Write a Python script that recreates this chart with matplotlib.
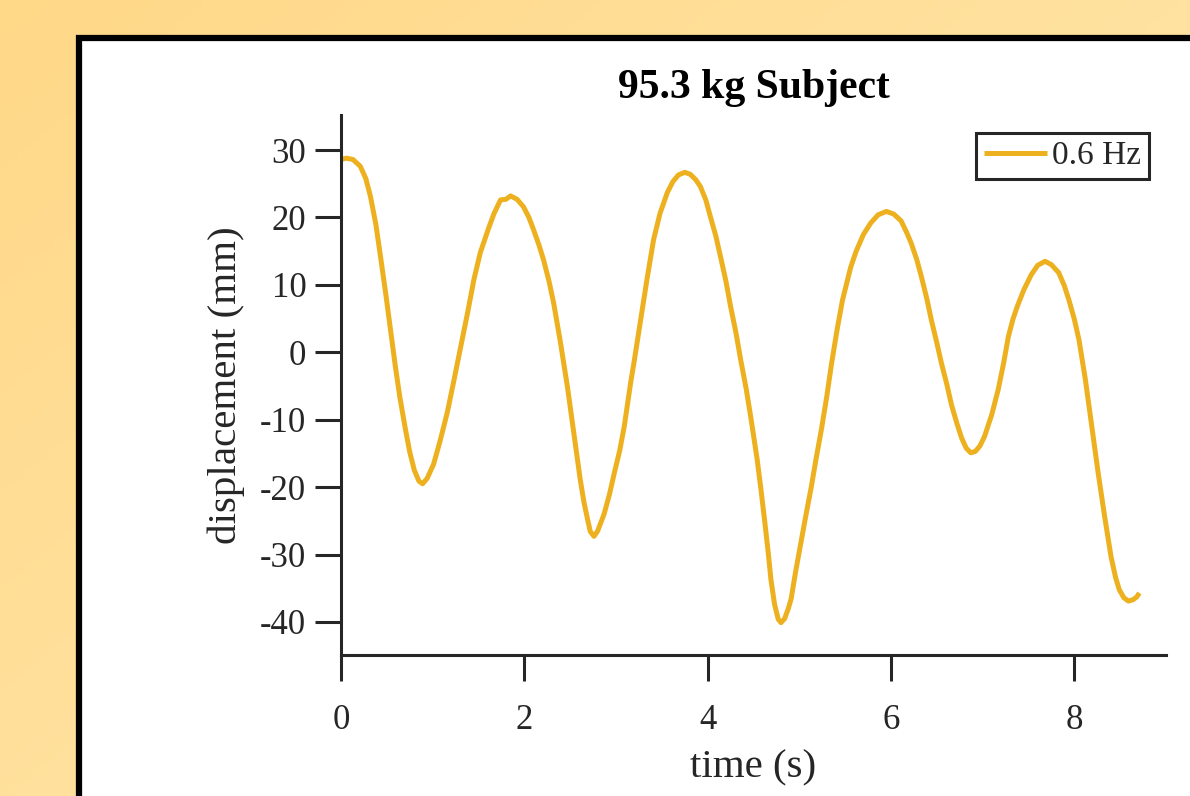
import numpy as np
import matplotlib
matplotlib.use("Agg")
import matplotlib.pyplot as plt
from matplotlib.patches import Rectangle
from matplotlib.colors import LinearSegmentedColormap

# displacement trace (0.6 Hz)
time_s = [0.00, 0.06, 0.13, 0.21, 0.27, 0.32, 0.38, 0.43, 0.49, 0.54, 0.59, 0.64,
          0.70, 0.75, 0.80, 0.85, 0.89, 0.94, 1.01, 1.08, 1.16, 1.23, 1.30, 1.38,
          1.45, 1.52, 1.61, 1.67, 1.74, 1.80, 1.85, 1.92, 1.99, 2.05, 2.10, 2.16,
          2.21, 2.27, 2.32, 2.39, 2.47, 2.54, 2.61, 2.65, 2.69, 2.72, 2.76, 2.80,
          2.87, 2.93, 2.98, 3.04, 3.09, 3.16, 3.20, 3.27, 3.34, 3.41, 3.48, 3.56,
          3.62, 3.68, 3.75, 3.81, 3.87, 3.92, 3.98, 4.03, 4.09, 4.14, 4.20, 4.25,
          4.31, 4.36, 4.42, 4.47, 4.54, 4.58, 4.62, 4.66, 4.69, 4.73, 4.77, 4.80,
          4.84, 4.88, 4.91, 4.96, 5.02, 5.07, 5.13, 5.18, 5.24, 5.30, 5.35, 5.41,
          5.47, 5.56, 5.62, 5.70, 5.78, 5.86, 5.95, 6.03, 6.11, 6.17, 6.22, 6.28,
          6.33, 6.39, 6.44, 6.50, 6.55, 6.61, 6.66, 6.72, 6.77, 6.82, 6.87, 6.92,
          6.97, 7.02, 7.10, 7.17, 7.23, 7.28, 7.33, 7.38, 7.45, 7.53, 7.60, 7.68,
          7.75, 7.83, 7.89, 7.94, 8.00, 8.05, 8.12, 8.19, 8.26, 8.33, 8.40, 8.45,
          8.49, 8.54, 8.59, 8.64, 8.68, 8.71]
disp_mm = [28.6, 28.8, 28.6, 27.6, 25.8, 23.2, 19.0, 14.3, 8.5, 3.4, -1.8, -6.5,
           -11.2, -14.8, -17.5, -19.1, -19.5, -18.7, -16.6, -13.2, -8.9, -4.3, 0.4, 5.8,
           10.8, 14.8, 18.4, 20.6, 22.6, 22.7, 23.2, 22.7, 21.6, 20.0, 18.2, 15.9,
           13.7, 10.5, 7.3, 1.8, -5.1, -12.0, -18.9, -22.2, -24.8, -26.6, -27.3, -26.5,
           -24.0, -21.0, -18.0, -14.6, -11.0, -4.5, -1.2, 4.9, 11.0, 16.7, 20.6, 23.7,
           25.3, 26.3, 26.7, 26.4, 25.6, 24.6, 22.6, 20.1, 17.2, 14.2, 10.5, 6.8,
           2.8, -1.1, -5.4, -9.6, -15.9, -20.2, -24.8, -29.6, -33.7, -37.4, -39.6, -40.1,
           -39.5, -38.0, -36.6, -32.5, -28.0, -24.3, -20.0, -16.0, -11.5, -6.5, -1.8, 3.2,
           7.7, 12.6, 15.0, 17.5, 19.2, 20.4, 20.9, 20.5, 19.5, 17.8, 16.2, 13.8,
           11.3, 8.0, 4.8, 1.4, -1.6, -4.8, -7.8, -10.6, -12.7, -14.2, -14.9, -14.7,
           -13.9, -12.5, -9.2, -5.5, -1.5, 2.3, 4.9, 6.9, 9.3, 11.5, 12.9, 13.5,
           13.0, 11.8, 9.9, 7.8, 4.9, 1.9, -4.0, -11.0, -17.9, -24.3, -30.3, -33.4,
           -35.2, -36.4, -36.9, -36.7, -36.3, -35.7]

x_ticks = [0, 2, 4, 6, 8]
y_ticks = [-40, -30, -20, -10, 0, 10, 20, 30]
series_label = "0.6 Hz"

plt.rcParams['font.family'] = ['Liberation Serif', 'DejaVu Serif']
ink = '#262626'

fig = plt.figure(figsize=(11.9, 7.96), dpi=100)

# slide background: soft diagonal yellow gradient
bg = fig.add_axes([0, 0, 1, 1], zorder=-10)
gx, gy = np.meshgrid(np.linspace(0, 1, 200), np.linspace(0, 1, 200))
grad = 0.55 * gx + 0.45 * gy
cmap = LinearSegmentedColormap.from_list('slide', ['#FFD888', '#FFEAB4'])
bg.imshow(grad, cmap=cmap, aspect='auto', extent=[0, 1, 0, 1], origin='upper')
bg.set_xlim(0, 1)
bg.set_ylim(0, 1)
bg.axis('off')

# white figure panel with black frame running off the right/bottom edge
bg.add_patch(Rectangle((79 / 1190, -0.1), 1.2, 1 - 38 / 796 + 0.1,
                       facecolor='white', edgecolor='black', linewidth=4.5,
                       transform=bg.transAxes, zorder=2))

ax = fig.add_axes([341 / 1190, 1 - 655 / 796, 825 / 1190, 540 / 796])
ax.patch.set_alpha(0)
ax.plot(time_s, disp_mm, color='#EDB120', linewidth=3.6, label=series_label,
        solid_capstyle='butt', solid_joinstyle='round')

ax.set_xlim(0, 9)
ax.set_ylim(-44.9, 35.2)
ax.set_xticks(x_ticks)
ax.set_yticks(y_ticks)
ax.set_xticklabels([str(v) for v in x_ticks])
ax.set_yticklabels([str(v) for v in y_ticks])

for side in ['top', 'right']:
    ax.spines[side].set_visible(False)
for side in ['left', 'bottom']:
    ax.spines[side].set_color(ink)
    ax.spines[side].set_linewidth(2.2)
ax.tick_params(direction='out', length=19, width=2.2, color=ink,
               labelcolor=ink, labelsize=25)
ax.tick_params(axis='y', pad=6)
ax.tick_params(axis='x', pad=16)

ax.set_xlabel('time (s)', fontsize=29.5, color=ink, labelpad=9)
ax.set_ylabel('displacement (mm)', fontsize=29.5, color=ink, labelpad=11)
ax.set_title('95.3 kg Subject', fontsize=30, fontweight='bold', color='black', pad=12)

leg = ax.legend(loc='upper right', bbox_to_anchor=(0.979, 0.967), fontsize=24,
                frameon=True, fancybox=False, framealpha=1, handlelength=1.87,
                handletextpad=0.15, borderpad=0.24, borderaxespad=0)
leg.get_frame().set_edgecolor(ink)
leg.get_frame().set_linewidth(2.2)
for t in leg.get_texts():
    t.set_color(ink)

fig.savefig('out.png', dpi=100)
